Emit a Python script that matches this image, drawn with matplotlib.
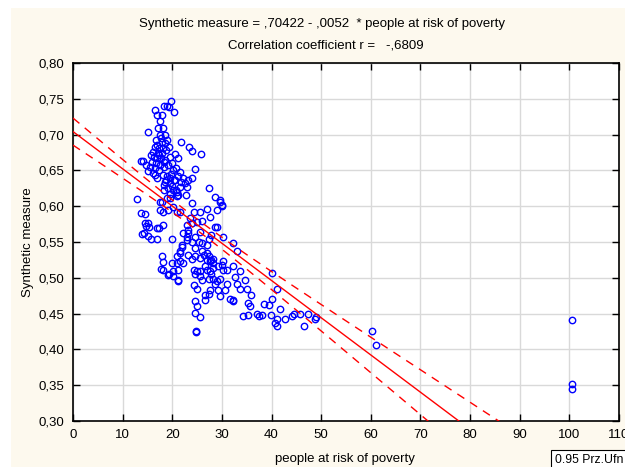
import numpy as np
import matplotlib
matplotlib.use("Agg")
import matplotlib.pyplot as plt
from matplotlib.patches import Rectangle
from matplotlib.ticker import FuncFormatter, MultipleLocator

plt.rcParams['font.family'] = ['Liberation Sans', 'DejaVu Sans']

# ---- data (people at risk of poverty, synthetic measure) ----
x_top = [19.8, 18.4, 18.9, 19.3, 16.5, 20.4, 17.0, 18.0, 17.6, 15.2,
         17.1, 18.1, 17.5, 18.5, 16.7, 17.9, 19.0, 16.5, 17.3, 18.1,
         17.1, 17.9, 18.8, 16.3, 16.9, 17.7, 18.5, 15.9, 16.7, 17.5,
         15.5, 16.5, 17.3, 16.1, 15.1, 14.1, 13.7, 14.7, 19.6, 19.2,
         20.0, 19.4, 20.2, 21.8, 23.4, 24.0, 25.8, 24.6, 20.6, 21.2,
         20.8, 21.6, 22.2, 20.4, 19.6, 18.8, 18.3, 19.2, 20.0, 20.8,
         21.6, 22.6, 23.2, 24.0, 21.0, 19.6, 22.8, 18.3, 27.4, 12.9,
         29.6, 30.0, 28.6, 16.9, 17.8, 18.6, 16.2, 17.4, 18.3, 15.8,
         16.6, 19.8, 17.0, 18.4]
y_top = [0.747, 0.740, 0.740, 0.739, 0.734, 0.732, 0.727, 0.727, 0.719, 0.703,
         0.709, 0.709, 0.700, 0.700, 0.692, 0.690, 0.692, 0.683, 0.681, 0.681,
         0.674, 0.674, 0.678, 0.669, 0.667, 0.667, 0.665, 0.662, 0.660, 0.658,
         0.655, 0.653, 0.651, 0.646, 0.649, 0.663, 0.663, 0.658, 0.669, 0.658,
         0.660, 0.683, 0.651, 0.690, 0.683, 0.677, 0.673, 0.652, 0.673, 0.667,
         0.653, 0.648, 0.639, 0.637, 0.639, 0.637, 0.630, 0.625, 0.628, 0.623,
         0.627, 0.632, 0.637, 0.639, 0.614, 0.611, 0.616, 0.623, 0.625, 0.610,
         0.609, 0.602, 0.613, 0.686, 0.695, 0.688, 0.676, 0.671, 0.662, 0.672,
         0.644, 0.645, 0.640, 0.655]

x_left = [13.7, 14.5, 14.5, 15.2, 14.8, 15.3, 16.9, 17.3, 18.2, 13.9,
          14.4, 15.2, 15.7, 16.9, 19.9,
          18.2, 18.9, 18.5, 19.6, 20.6, 21.2, 21.8, 20.2, 20.9, 19.6,
          17.9, 18.9, 17.5, 18.2, 19.2, 20.2, 20.9, 21.6]
y_left = [0.590, 0.589, 0.577, 0.576, 0.572, 0.571, 0.569, 0.570, 0.574, 0.561,
          0.563, 0.559, 0.554, 0.554, 0.554,
          0.644, 0.642, 0.634, 0.632, 0.637, 0.642, 0.634, 0.622, 0.620, 0.617,
          0.606, 0.611, 0.594, 0.592, 0.594, 0.599, 0.592, 0.592]

x_mid = [17.5, 23.9, 29.6, 30.0, 24.3, 25.6, 27.6, 29.0, 29.1, 28.6,
         25.5, 23.6, 22.9, 23.2, 22.2, 24.6, 22.9, 23.9, 25.3, 25.9,
         26.9, 27.3, 27.9, 30.3, 32.3, 33.0,
         17.9, 18.2, 17.7, 18.2, 19.2, 19.4, 20.2, 20.2, 21.2, 19.9,
         20.9, 21.6, 21.9, 23.9, 24.6, 24.3, 24.9, 25.5, 26.3, 26.9,
         27.9, 28.3, 27.6, 27.3, 28.3, 29.0, 29.6, 30.0, 30.3, 31.0,
         32.3, 33.7, 34.7, 35.0, 33.7, 33.0, 31.0, 30.6, 29.6, 29.3,
         27.6, 27.3, 26.6, 24.6, 24.9, 24.6, 25.6, 24.8, 24.8, 31.6,
         32.3, 34.3, 35.3, 37.0, 37.4, 38.0, 35.7, 38.4, 39.4, 40.0,
         40.0, 41.1, 41.7, 39.9, 41.1, 40.7, 41.1, 42.7, 44.1, 44.5,
         45.8, 46.6, 47.4, 48.8]
y_mid = [0.606, 0.604, 0.606, 0.600, 0.592, 0.592, 0.585, 0.595, 0.571, 0.571,
         0.564, 0.583, 0.574, 0.562, 0.562, 0.557, 0.557, 0.550, 0.550, 0.548,
         0.546, 0.554, 0.560, 0.557, 0.548, 0.537,
         0.531, 0.522, 0.512, 0.511, 0.504, 0.506, 0.510, 0.502, 0.495, 0.520,
         0.520, 0.534, 0.543, 0.526, 0.530, 0.511, 0.509, 0.510, 0.532, 0.535,
         0.525, 0.520, 0.509, 0.499, 0.499, 0.495, 0.499, 0.518, 0.511, 0.511,
         0.516, 0.509, 0.497, 0.485, 0.485, 0.491, 0.492, 0.483, 0.474, 0.483,
         0.483, 0.478, 0.469, 0.467, 0.460, 0.451, 0.445, 0.426, 0.424, 0.471,
         0.469, 0.446, 0.448, 0.450, 0.446, 0.448, 0.460, 0.464, 0.462, 0.471,
         0.507, 0.485, 0.457, 0.448, 0.443, 0.437, 0.432, 0.443, 0.446, 0.449,
         0.450, 0.433, 0.450, 0.443]

x_extra = [23.2, 22.9, 21.9, 21.6, 23.2, 21.6, 21.2, 21.2, 24.6, 25.9,
           25.6, 26.9, 27.6, 28.3, 27.3, 26.6, 27.9, 29.3, 30.3, 24.3,
           24.9, 25.9, 28.6, 26.6, 22.2, 20.9, 25.6, 24.6, 26.9, 28.3,
           26.9, 25.9, 24.9, 23.9, 21.2, 22.9, 35.3, 35.8, 32.2, 32.7,
           49.0, 60.3, 61.0, 100.5, 100.5, 100.5]
y_extra = [0.567, 0.553, 0.546, 0.537, 0.532, 0.523, 0.511, 0.497, 0.541, 0.537,
           0.527, 0.525, 0.523, 0.526, 0.530, 0.516, 0.506, 0.516, 0.523, 0.490,
           0.485, 0.497, 0.492, 0.476, 0.520, 0.530, 0.502, 0.506, 0.511, 0.513,
           0.596, 0.580, 0.578, 0.576, 0.616, 0.627, 0.465, 0.476, 0.468, 0.501,
           0.445, 0.425, 0.406, 0.441, 0.352, 0.345]

intercept = 0.70422
slope = -0.0052
r_value = -0.6809
conf_level = 0.95

x_ticks = [0, 10, 20, 30, 40, 50, 60, 70, 80, 90, 100, 110]

# ---- figure ----
W, H = 625, 467
fig = plt.figure(figsize=(W / 100, H / 100), dpi=100, facecolor='white')
fig.patches.append(Rectangle((11 / W, 0), 1, 1 - 8 / H, transform=fig.transFigure,
                             facecolor='#FDF9EE', edgecolor='none', zorder=-10))

ax = fig.add_axes([73 / W, 1 - 421 / H, (619 - 73) / W, (421 - 63) / H])
ax.set_facecolor('white')

x = np.array(x_top + x_left + x_mid + x_extra)
y = np.array(y_top + y_left + y_mid + y_extra)

ax.plot(x, y, linestyle='none', marker='o', markersize=4.6, markerfacecolor='none',
        markeredgecolor='#0000FF', markeredgewidth=1.0, zorder=3, clip_on=True)

# regression line and 95% confidence band
xx = np.linspace(0, 110, 400)
yy = intercept + slope * xx
n = len(x)
resid = y - (intercept + slope * x)
s = np.sqrt(np.sum(resid ** 2) / (n - 2))
sxx = np.sum((x - x.mean()) ** 2)
t = 1.968
hw = t * s * np.sqrt(1 / n + (xx - x.mean()) ** 2 / sxx)
ax.plot(xx, yy, color='#FF0000', lw=1.0, zorder=4)
ax.plot(xx, yy + hw, color='#FF0000', lw=1.0, ls=(0, (6, 5)), zorder=4)
ax.plot(xx, yy - hw, color='#FF0000', lw=1.0, ls=(0, (6, 5)), zorder=4)

ax.set_xlim(0, 110)
ax.set_ylim(0.30, 0.80)
ax.set_xticks(x_ticks)
ax.yaxis.set_major_locator(MultipleLocator(0.05))
ax.yaxis.set_major_formatter(FuncFormatter(lambda v, p: f"{v:.2f}".replace('.', ',')))
ax.grid(True, color='#D9D9D9', lw=1.0, zorder=0)
ax.set_axisbelow(True)
ax.tick_params(direction='in', top=True, right=True, length=5, width=1,
               labelsize=9.5, pad=6, colors='black')
for sp in ax.spines.values():
    sp.set_linewidth(1.2)
    sp.set_color('black')

fig.text(345 / W, 1 - 459 / H, 'people at risk of poverty', ha='center', va='center', fontsize=9.5)
fig.text(28 / W, 1 - 242 / H, 'Synthetic measure', ha='center', va='center',
         rotation=90, fontsize=9.5)

eq = f"Synthetic measure = ,{str(intercept).split('.')[1]} - ,{str(abs(slope)).split('.')[1]}  * people at risk of poverty"
fig.text(322 / W, 1 - 24 / H, eq, ha='center', va='center', fontsize=9.5)
fig.text(326 / W, 1 - 46 / H, f"Correlation coefficient r =   -,{str(abs(r_value)).split('.')[1]}",
         ha='center', va='center', fontsize=9.5)

fig.text(555 / W, 1 - 460 / H, f"{conf_level:.2f} Prz.Ufn", ha='left', va='center', fontsize=8.8,
         bbox=dict(boxstyle='square,pad=0.3', facecolor='white', edgecolor='black', lw=0.8))

fig.savefig('out.png', dpi=100, facecolor=fig.get_facecolor())
